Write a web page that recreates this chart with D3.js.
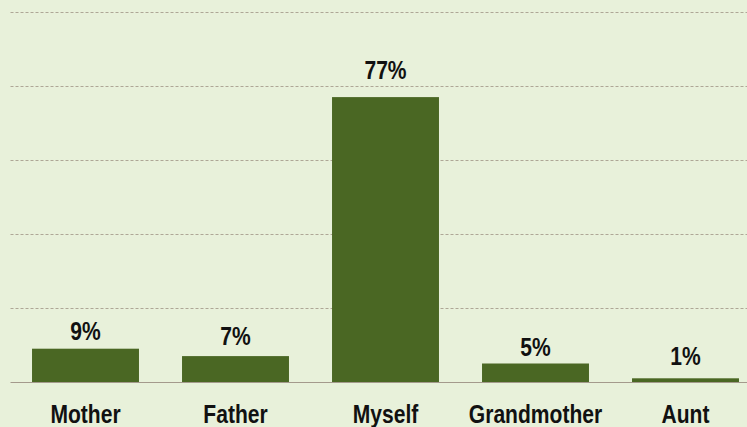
<!DOCTYPE html>
<html>
<head>
<meta charset="utf-8">
<script src="https://cdn.jsdelivr.net/npm/d3@7"></script>
<style>
  html, body { margin: 0; padding: 0; background: #e8f1da; }
  svg { display: block; }
  .lbl { font-family: "Liberation Sans Narrow", "Arial Narrow", "Liberation Sans", Arial, sans-serif; font-weight: bold; fill: #111; }
</style>
</head>
<body>
<div id="chart"></div>
<script>
var categories = ["Mother", "Father", "Myself", "Grandmother", "Aunt"];
var values = [9, 7, 77, 5, 1];
var gridTicks = [20, 40, 60, 80, 100];

// layout: space between each bar top and its value label (px)
var labelGap = [9, 11, 18, 8, 13];

var W = 747, H = 427;
var margin = { top: 12, left: 10.5, bottom: 45, right: -13.5 };
var width = W - margin.left - margin.right;
var height = H - margin.top - margin.bottom;
var squeeze = 0.81; // reference uses a condensed face

var svg = d3.select("#chart").append("svg")
    .attr("width", W)
    .attr("height", H);

svg.append("rect").attr("width", W).attr("height", H).attr("fill", "#e8f1da");

var g = svg.append("g")
    .attr("transform", "translate(" + margin.left + "," + margin.top + ")");

var x = d3.scaleBand()
    .domain(categories)
    .range([0, width])
    .paddingInner(0.287)
    .paddingOuter(0.1435);

var y = d3.scaleLinear()
    .domain([0, 100])
    .range([height, 0]);

// gridlines
g.selectAll(".grid")
    .data(gridTicks)
    .enter().append("line")
    .attr("x1", 0)
    .attr("x2", W)
    .attr("y1", function(d) { return Math.round(y(d)) + 0.5; })
    .attr("y2", function(d) { return Math.round(y(d)) + 0.5; })
    .attr("stroke", "#aea796")
    .attr("stroke-width", 1)
    .attr("stroke-dasharray", "3,2");

// bars
g.selectAll(".bar")
    .data(values)
    .enter().append("rect")
    .attr("x", function(d, i) { return x(categories[i]); })
    .attr("width", x.bandwidth())
    .attr("y", function(d) { return y(d); })
    .attr("height", function(d) { return height - y(d); })
    .attr("fill", "#4a6723");

// baseline
g.append("line")
    .attr("x1", 0)
    .attr("x2", W)
    .attr("y1", height + 0.5)
    .attr("y2", height + 0.5)
    .attr("stroke", "#a49a8c")
    .attr("stroke-width", 1);

// value labels
g.selectAll(".val")
    .data(values)
    .enter().append("text")
    .attr("class", "lbl")
    .attr("transform", function(d, i) {
        return "translate(" + (x(categories[i]) + x.bandwidth() / 2) + "," + (y(d) - labelGap[i]) + ") scale(" + squeeze + ",1)";
    })
    .attr("text-anchor", "middle")
    .style("font-size", "26px")
    .text(function(d) { return d + "%"; });

// category labels
g.selectAll(".cat")
    .data(categories)
    .enter().append("text")
    .attr("class", "lbl")
    .attr("transform", function(d) {
        return "translate(" + (x(d) + x.bandwidth() / 2) + "," + (height + 41) + ") scale(" + squeeze + ",1)";
    })
    .attr("text-anchor", "middle")
    .style("font-size", "26px")
    .text(function(d) { return d; });
</script>
</body>
</html>
